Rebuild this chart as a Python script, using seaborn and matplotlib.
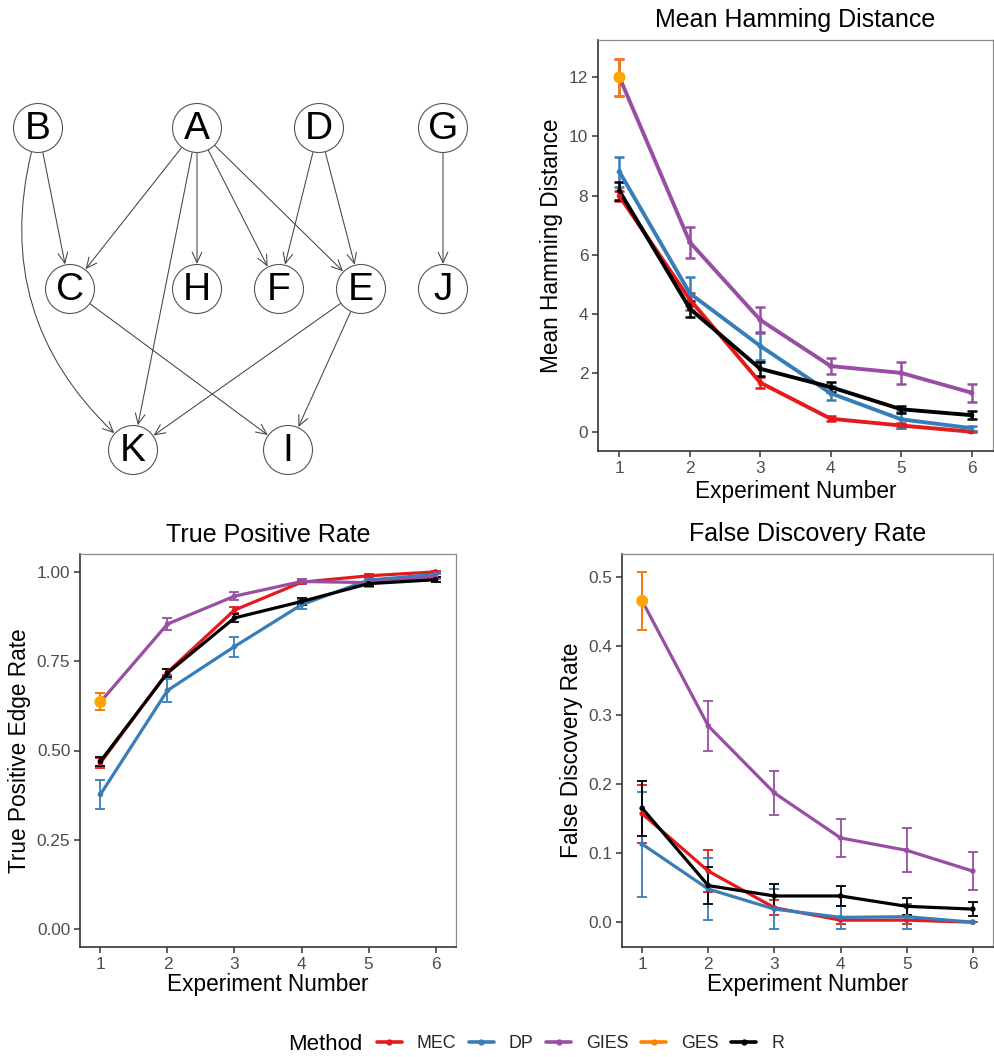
import numpy as np
import pandas as pd
import seaborn as sns
import matplotlib
matplotlib.use("Agg")
import matplotlib.pyplot as plt
from matplotlib.patches import Circle, FancyArrowPatch
from matplotlib.lines import Line2D

# ---------------- data ----------------
experiments = [1, 2, 3, 4, 5, 6]
methods = ["MEC", "DP", "GIES", "GES", "R"]

ham_mec = [7.98, 4.48, 1.67, 0.45, 0.22, 0.01]
ham_mec_err = [0.17, 0.22, 0.19, 0.09, 0.08, 0.02]
ham_dp = [8.80, 4.69, 2.91, 1.31, 0.43, 0.13]
ham_dp_err = [0.50, 0.55, 0.48, 0.24, 0.28, 0.08]
ham_gies = [12.0, 6.42, 3.79, 2.23, 2.00, 1.33]
ham_gies_err = [0.63, 0.53, 0.45, 0.28, 0.38, 0.31]
ham_ges = [12.0]
ham_ges_err = [0.63]
ham_r = [8.15, 4.17, 2.14, 1.52, 0.77, 0.57]
ham_r_err = [0.30, 0.27, 0.23, 0.17, 0.12, 0.13]

tpr_mec = [0.465, 0.719, 0.893, 0.971, 0.989, 1.000]
tpr_mec_err = [0.014, 0.009, 0.009, 0.006, 0.005, 0.003]
tpr_dp = [0.377, 0.668, 0.791, 0.908, 0.977, 0.993]
tpr_dp_err = [0.040, 0.033, 0.028, 0.013, 0.011, 0.007]
tpr_gies = [0.636, 0.854, 0.932, 0.973, 0.970, 0.986]
tpr_gies_err = [0.024, 0.017, 0.011, 0.006, 0.011, 0.007]
tpr_ges = [0.636]
tpr_ges_err = [0.024]
tpr_r = [0.470, 0.717, 0.871, 0.917, 0.967, 0.978]
tpr_r_err = [0.013, 0.012, 0.011, 0.009, 0.007, 0.007]
tpr_limits = [0.0, 1.0]

fdr_mec = [0.157, 0.074, 0.021, 0.003, 0.003, 0.000]
fdr_mec_err = [0.042, 0.030, 0.011, 0.005, 0.005, 0.000]
fdr_dp = [0.113, 0.048, 0.019, 0.007, 0.008, 0.000]
fdr_dp_err = [0.076, 0.045, 0.029, 0.017, 0.018, 0.000]
fdr_gies = [0.465, 0.284, 0.187, 0.122, 0.104, 0.074]
fdr_gies_err = [0.042, 0.036, 0.032, 0.027, 0.032, 0.027]
fdr_ges = [0.465]
fdr_ges_err = [0.042]
fdr_r = [0.165, 0.053, 0.038, 0.038, 0.023, 0.019]
fdr_r_err = [0.040, 0.027, 0.018, 0.014, 0.012, 0.010]

# DAG
node_names = ["B", "A", "D", "G", "C", "H", "F", "E", "J", "K", "I"]
node_x = [38, 197, 319, 443, 70, 197, 279, 361, 443, 133, 288]
node_y = [128, 128, 128, 128, 289, 289, 289, 289, 289, 450, 450]
edges = [("B", "C"), ("B", "K"), ("A", "C"), ("A", "K"), ("A", "H"), ("A", "F"),
         ("A", "E"), ("D", "F"), ("D", "E"), ("G", "J"), ("C", "I"), ("E", "K"),
         ("E", "I")]
curved_edges = {("B", "K"): 0.33}

# ---------------- style ----------------
colors = {"MEC": "#E41A1C", "DP": "#377EB8", "GIES": "#984EA3", "GES": "#FF7F00", "R": "#000000"}
ges_point_color = "#FFA500"

sns.set_theme(style="white")
plt.rcParams["font.family"] = ["Liberation Sans", "DejaVu Sans"]

W, H = 995, 1057
fig = plt.figure(figsize=(W / 100, H / 100), dpi=100)


def ax_at(left, top, right, bottom):
    return fig.add_axes([left / W, 1 - bottom / H, (right - left) / W, (bottom - top) / H])


def build_df(series):
    rows = []
    for m in methods:
        vals, errs = series[m]
        for i, (v, e) in enumerate(zip(vals, errs)):
            rows.append({"Experiment": experiments[i], "value": v, "err": e, "Method": m})
    return pd.DataFrame(rows)


def panel(ax, df, title, ylabel, yticks, fmt, lw, elw, limits=None, xpad=1):
    for m in methods:
        sub = df[df.Method == m]
        c = colors[m]
        ax.errorbar(sub.Experiment, sub.value, yerr=sub.err, fmt="none", ecolor=c,
                    elinewidth=elw, capsize=3.3, capthick=elw, zorder=2)
    for m in methods:
        sub = df[df.Method == m]
        if len(sub) > 1:
            sns.lineplot(data=sub, x="Experiment", y="value", color=colors[m],
                         linewidth=lw, ax=ax, legend=False, zorder=3)
    for m in methods:
        sub = df[df.Method == m]
        if m == "GES":
            sns.scatterplot(data=sub, x="Experiment", y="value", color=ges_point_color,
                            s=75, ax=ax, legend=False, zorder=5, edgecolor="none")
        else:
            sns.scatterplot(data=sub, x="Experiment", y="value", color=colors[m],
                            s=16, ax=ax, legend=False, zorder=4, edgecolor="none")
    if limits is None:
        lo = (df.value - df.err).min()
        hi = (df.value + df.err).max()
    else:
        lo, hi = limits
    pad = (hi - lo) * 0.05
    ax.set_ylim(lo - pad, hi + pad)
    x0, x1 = 0.95, 6.05
    xp = (x1 - x0) * 0.05
    ax.set_xlim(x0 - xp, x1 + xp)
    ax.set_xticks(experiments)
    ax.set_xticklabels([str(e) for e in experiments])
    ax.set_yticks(yticks)
    ax.set_yticklabels([fmt.format(t) for t in yticks])
    ax.set_title(title, fontsize=18, color="black", pad=9)
    ax.set_xlabel("Experiment Number", fontsize=16.3, color="black", labelpad=xpad)
    ax.set_ylabel(ylabel, fontsize=16.3, color="black", labelpad=4)
    ax.tick_params(axis="both", which="major", labelsize=12.4, labelcolor="#4D4D4D",
                   color="#333333", length=4, width=1.1, pad=3, bottom=True, left=True)
    for s in ["left", "bottom"]:
        ax.spines[s].set_color("#333333")
        ax.spines[s].set_linewidth(1.2)
    for s in ["top", "right"]:
        ax.spines[s].set_color("#8C8C8C")
        ax.spines[s].set_linewidth(0.9)
    ax.grid(False)
    ax.set_facecolor("white")


ham = build_df({"MEC": (ham_mec, ham_mec_err), "DP": (ham_dp, ham_dp_err),
                "GIES": (ham_gies, ham_gies_err), "GES": (ham_ges, ham_ges_err),
                "R": (ham_r, ham_r_err)})
tpr = build_df({"MEC": (tpr_mec, tpr_mec_err), "DP": (tpr_dp, tpr_dp_err),
                "GIES": (tpr_gies, tpr_gies_err), "GES": (tpr_ges, tpr_ges_err),
                "R": (tpr_r, tpr_r_err)})
fdr = build_df({"MEC": (fdr_mec, fdr_mec_err), "DP": (fdr_dp, fdr_dp_err),
                "GIES": (fdr_gies, fdr_gies_err), "GES": (fdr_ges, fdr_ges_err),
                "R": (fdr_r, fdr_r_err)})

ax1 = ax_at(598, 40, 993, 451)
panel(ax1, ham, "Mean Hamming Distance", "Mean Hamming Distance",
      [0, 2, 4, 6, 8, 10, 12], "{:g}", 2.8, 1.8, xpad=3)

ax2 = ax_at(80, 554, 456, 947)
panel(ax2, tpr, "True Positive Rate", "True Positive Edge Rate",
      [0, 0.25, 0.5, 0.75, 1.0], "{:.2f}", 2.3, 1.3, limits=tpr_limits)

ax3 = ax_at(622, 554, 993, 947)
panel(ax3, fdr, "False Discovery Rate", "False Discovery Rate",
      [0, 0.1, 0.2, 0.3, 0.4, 0.5], "{:.1f}", 2.3, 1.3)

# ---------------- DAG ----------------
axg = ax_at(0, 0, 500, 500)
axg.set_xlim(0, 500)
axg.set_ylim(500, 0)
axg.axis("off")
pos = {n: (x, y) for n, x, y in zip(node_names, node_x, node_y)}
radius = 24.5
shrink_pt = radius * 72 / 100 + 0.5
for a, b in edges:
    rad = curved_edges.get((a, b), 0.0)
    arr = FancyArrowPatch(pos[a], pos[b],
                          arrowstyle="->,head_length=0.75,head_width=0.35",
                          connectionstyle=f"arc3,rad={rad}",
                          shrinkA=shrink_pt, shrinkB=shrink_pt,
                          mutation_scale=10, lw=0.75, color="#444444", zorder=2)
    axg.add_patch(arr)
for n in node_names:
    x, y = pos[n]
    axg.add_patch(Circle((x, y), radius, facecolor="white", edgecolor="#555555",
                         lw=0.8, zorder=3))
    axg.text(x, y + 1, n, fontsize=28, ha="center", va="center", color="black", zorder=4)

# ---------------- legend ----------------
fig.text(288 / W, 1 - 1044 / H, "Method", fontsize=16, ha="left", va="center", color="black")
handles = [Line2D([0], [0], color=colors[m], lw=2.6, marker="o", markersize=3.5,
                  markerfacecolor=colors[m], markeredgecolor=colors[m]) for m in methods]
fig.legend(handles, methods, loc="center left", bbox_to_anchor=(377 / W, 1 - 1044 / H),
           ncol=5, frameon=False, fontsize=12.8, handlelength=1.4, handletextpad=0.85,
           columnspacing=0.7, borderpad=0, borderaxespad=0)

fig.savefig("out.png", dpi=100, facecolor="white")
